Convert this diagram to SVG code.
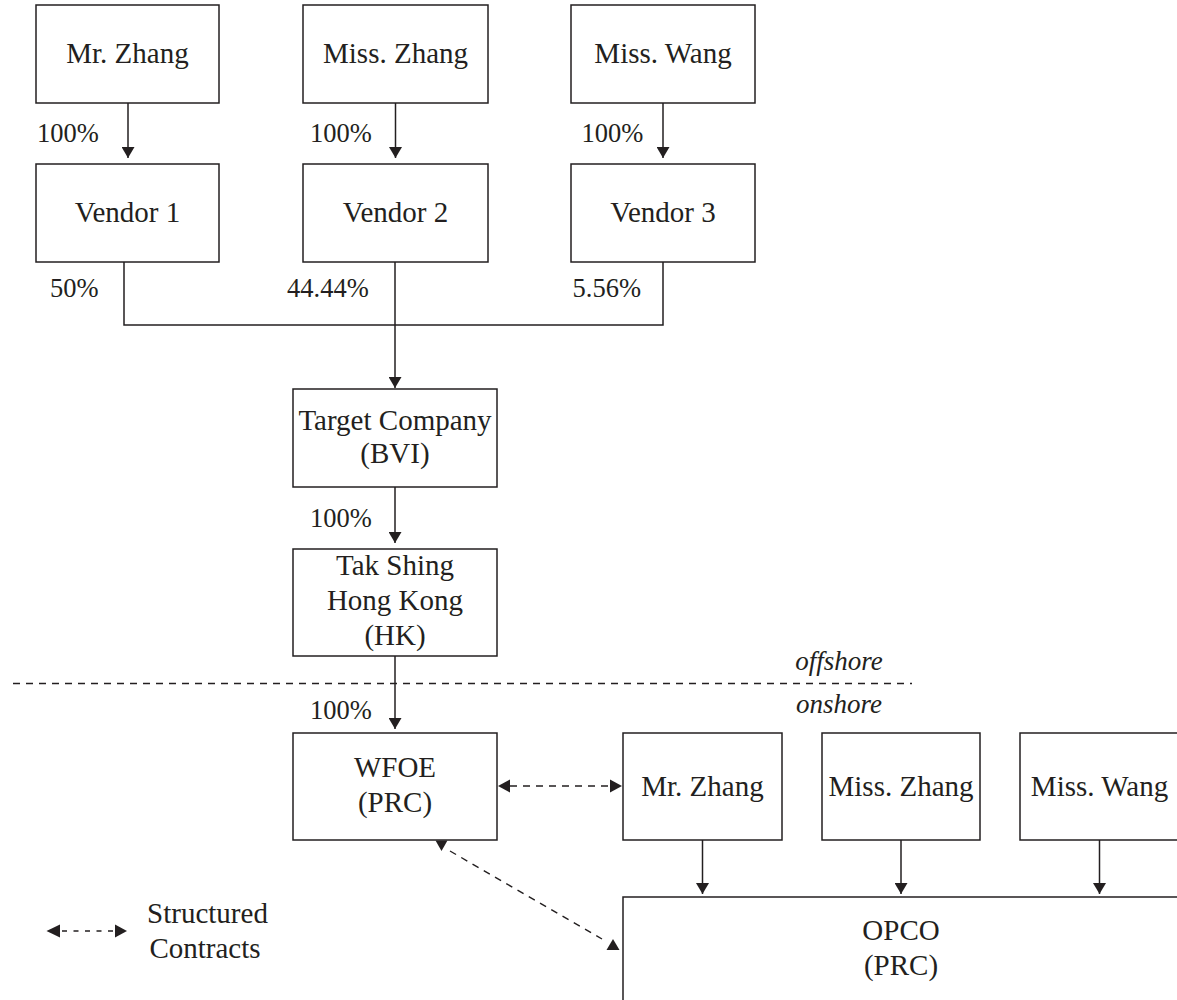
<svg xmlns="http://www.w3.org/2000/svg" width="1177" height="1000" viewBox="0 0 1177 1000">
  <style>
    .box { fill: #ffffff; stroke: #231f20; stroke-width: 1.5; }
    .lbl { font-family: "Liberation Serif", "Times New Roman", serif; font-size: 29px; fill: #231f20; text-anchor: middle; }
    .pct { font-family: "Liberation Serif", "Times New Roman", serif; font-size: 26.5px; fill: #231f20; }
    .zone { font-family: "Liberation Serif", "Times New Roman", serif; font-size: 27px; font-style: italic; fill: #231f20; text-anchor: middle; }
    .wire { fill: none; stroke: #231f20; stroke-width: 1.5; }
    .dash { fill: none; stroke: #231f20; stroke-width: 1.4; stroke-dasharray: 7 6; }
    .head { fill: #231f20; }
  </style>
  <defs>
    <marker id="arrow" markerUnits="userSpaceOnUse" markerWidth="12" markerHeight="13" refX="11" refY="6.5" orient="auto">
      <path d="M0,0 L11,6.5 L0,13 z" fill="#231f20"/>
    </marker>
  </defs>

  <rect width="1177" height="1000" fill="#ffffff"/>

  <!-- shareholders (offshore) -->
  <g id="mr-zhang-top">
    <rect class="box" x="36" y="5" width="183" height="98"/>
    <text class="lbl" x="127.5" y="63">Mr. Zhang</text>
  </g>
  <g id="miss-zhang-top">
    <rect class="box" x="303" y="5" width="185" height="98"/>
    <text class="lbl" x="395.5" y="63">Miss. Zhang</text>
  </g>
  <g id="miss-wang-top">
    <rect class="box" x="571" y="5" width="184" height="98"/>
    <text class="lbl" x="663" y="63">Miss. Wang</text>
  </g>

  <!-- vendors -->
  <g id="vendor-1">
    <rect class="box" x="36" y="164" width="183" height="98"/>
    <text class="lbl" x="127.5" y="222">Vendor 1</text>
  </g>
  <g id="vendor-2">
    <rect class="box" x="303" y="164" width="185" height="98"/>
    <text class="lbl" x="395.5" y="222">Vendor 2</text>
  </g>
  <g id="vendor-3">
    <rect class="box" x="571" y="164" width="184" height="98"/>
    <text class="lbl" x="663" y="222">Vendor 3</text>
  </g>

  <!-- holding chain -->
  <g id="target-company">
    <rect class="box" x="293" y="389" width="204" height="98"/>
    <text class="lbl" x="395" y="430">Target Company</text>
    <text class="lbl" x="395" y="463">(BVI)</text>
  </g>
  <g id="tak-shing">
    <rect class="box" x="293" y="549" width="204" height="107"/>
    <text class="lbl" x="395" y="575">Tak Shing</text>
    <text class="lbl" x="395" y="610">Hong Kong</text>
    <text class="lbl" x="395" y="645">(HK)</text>
  </g>
  <g id="wfoe">
    <rect class="box" x="293" y="733" width="204" height="107"/>
    <text class="lbl" x="395" y="777">WFOE</text>
    <text class="lbl" x="395" y="812">(PRC)</text>
  </g>

  <!-- onshore shareholders -->
  <g id="mr-zhang-onshore">
    <rect class="box" x="623" y="733" width="159" height="107"/>
    <text class="lbl" x="702.5" y="796">Mr. Zhang</text>
  </g>
  <g id="miss-zhang-onshore">
    <rect class="box" x="822" y="733" width="158" height="107"/>
    <text class="lbl" x="901" y="796">Miss. Zhang</text>
  </g>
  <g id="miss-wang-onshore">
    <rect class="box" x="1020" y="733" width="159" height="107"/>
    <text class="lbl" x="1099.5" y="796">Miss. Wang</text>
  </g>
  <g id="opco">
    <rect class="box" x="623" y="897" width="560" height="110"/>
    <text class="lbl" x="901" y="940">OPCO</text>
    <text class="lbl" x="901" y="975">(PRC)</text>
  </g>

  <!-- offshore / onshore divider -->
  <g id="divider">
    <line class="dash" x1="13" y1="683.5" x2="912" y2="683.5"/>
    <text class="zone" x="839" y="670">offshore</text>
    <text class="zone" x="839" y="713">onshore</text>
  </g>

  <!-- connectors -->
  <g id="connectors">
    <line class="wire" x1="128" y1="103" x2="128" y2="158" marker-end="url(#arrow)"/>
    <line class="wire" x1="395.5" y1="103" x2="395.5" y2="158" marker-end="url(#arrow)"/>
    <line class="wire" x1="663" y1="103" x2="663" y2="158" marker-end="url(#arrow)"/>

    <polyline class="wire" points="124,262 124,325 663,325 663,262"/>
    <line class="wire" x1="395" y1="262" x2="395" y2="388" marker-end="url(#arrow)"/>

    <line class="wire" x1="395" y1="487" x2="395" y2="543" marker-end="url(#arrow)"/>
    <line class="wire" x1="395" y1="656" x2="395" y2="729" marker-end="url(#arrow)"/>

    <line class="wire" x1="702.5" y1="840" x2="702.5" y2="894" marker-end="url(#arrow)"/>
    <line class="wire" x1="901" y1="840" x2="901" y2="894" marker-end="url(#arrow)"/>
    <line class="wire" x1="1099.5" y1="840" x2="1099.5" y2="894" marker-end="url(#arrow)"/>

    <!-- structured contracts: WFOE and Mr. Zhang -->
    <line class="dash" x1="510" y1="786" x2="611" y2="786"/>
    <polygon class="head" points="498,786 510,779.5 510,792.5"/>
    <polygon class="head" points="622,786 610,779.5 610,792.5"/>

    <!-- structured contracts: WFOE and OPCO -->
    <line class="dash" x1="450" y1="851" x2="602" y2="939"/>
    <polygon class="head" points="435.5,840.5 447.5,840.5 441.5,851"/>
    <polygon class="head" points="606.5,950 619.5,950 613,939"/>
  </g>

  <!-- ownership percentages -->
  <g id="percentages">
    <text class="pct" x="37" y="142">100%</text>
    <text class="pct" x="310" y="142">100%</text>
    <text class="pct" x="581.5" y="142">100%</text>
    <text class="pct" x="50" y="297">50%</text>
    <text class="pct" x="287" y="297">44.44%</text>
    <text class="pct" x="572.5" y="297">5.56%</text>
    <text class="pct" x="310" y="527">100%</text>
    <text class="pct" x="310" y="719">100%</text>
  </g>

  <!-- legend -->
  <g id="legend">
    <polygon class="head" points="46.5,931 60,924.5 60,937.5"/>
    <line class="wire" x1="62" y1="931" x2="114" y2="931" stroke-dasharray="5 6.5"/>
    <polygon class="head" points="127,931 115,924.5 115,937.5"/>
    <text class="lbl" x="207.5" y="923">Structured</text>
    <text class="lbl" x="205" y="958">Contracts</text>
  </g>
</svg>
